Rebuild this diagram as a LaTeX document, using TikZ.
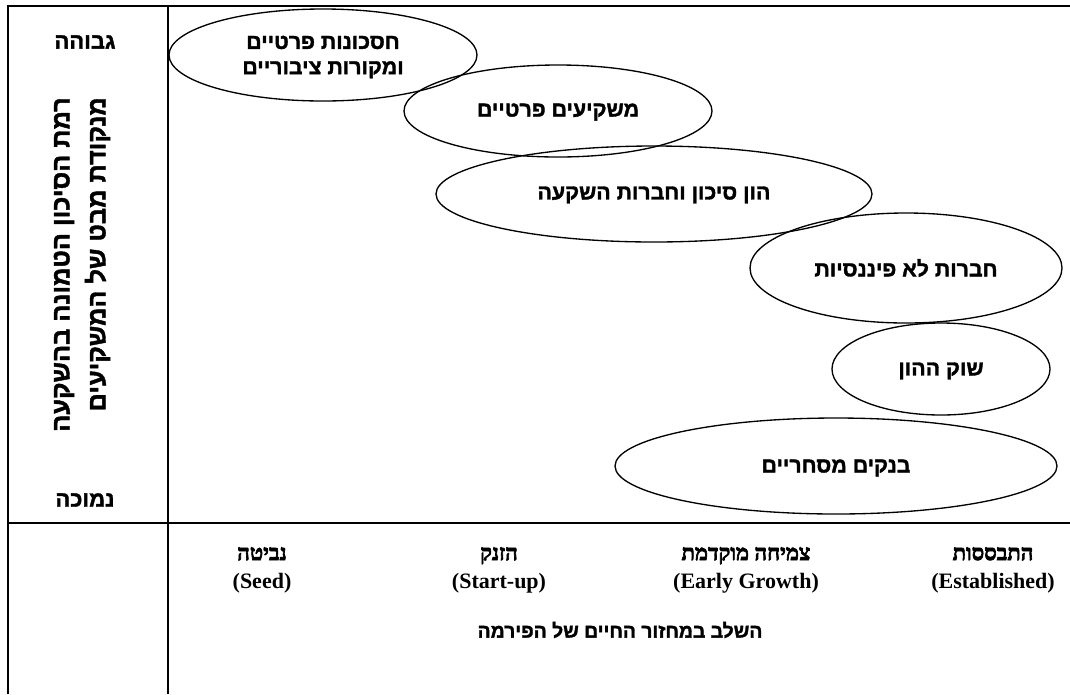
\documentclass[tikz,border=0pt]{standalone}
\usepackage{fontspec}
\setmainfont{Liberation Serif}
\newfontfamily\hebsans[Script=Hebrew, BoldFeatures={FakeBold=1.6}]{Liberation Sans}
\newfontfamily\hebserif[Script=Hebrew, BoldFeatures={FakeBold=3}]{Liberation Serif}
\TeXXeTstate=1

\tikzset{
  frame/.style={line width=1.5pt},
  oval/.style={line width=1pt},
  fund/.style={font=\hebsans\bfseries\fontsize{16}{19}\selectfont, align=center, inner sep=0pt},
  lvl/.style={font=\hebsans\bfseries\fontsize{16.5}{19}\selectfont, inner sep=0pt},
  riskaxis/.style={font=\hebsans\bfseries\fontsize{19}{27}\selectfont, align=right, inner sep=0pt},
  stage/.style={font=\rmfamily\bfseries\fontsize{16.5}{21}\selectfont, align=center, inner sep=0pt},
}

\begin{document}
\begin{tikzpicture}[x=0.75pt,y=0.75pt,yscale=-1]
\useasboundingbox (0,0) rectangle (1070,694);

%Straight Lines
\draw [frame] (8,694) -- (8,6) -- (1070,6) ;
%Straight Lines
\draw [frame] (168,6) -- (168,694) ;
%Straight Lines
\draw [frame] (8,523) -- (1070,523) ;

%Shape: Ellipse
\draw [oval] (323,55) ellipse [x radius=154, y radius=46] ;
%Shape: Ellipse
\draw [oval] (558,111) ellipse [x radius=154, y radius=46] ;
%Shape: Ellipse
\draw [oval] (654,194) ellipse [x radius=218, y radius=48] ;
%Shape: Ellipse
\draw [oval] (906,268) ellipse [x radius=156, y radius=55] ;
%Shape: Ellipse
\draw [oval] (941,369) ellipse [x radius=109, y radius=46] ;
%Shape: Ellipse
\draw [oval] (836,466) ellipse [x radius=221, y radius=48] ;

% Text Node
\node (savings) [fund] at (323,57) {\beginR חסכונות פרטיים\endR\\\beginR ומקורות ציבוריים\endR};
% Text Node
\node (angels) [fund] at (558,112) {\beginR משקיעים פרטיים\endR};
% Text Node
\node (venture) [fund] at (654,195) {\beginR הון סיכון וחברות השקעה\endR};
% Text Node
\node (corporates) [fund] at (906,268) {\beginR חברות לא פיננסיות\endR};
% Text Node
\node (market) [fund] at (941,371) {\beginR שוק ההון\endR};
% Text Node
\node (banks) [fund] at (836,468) {\beginR בנקים מסחריים\endR};

% Text Node
\node (high) [lvl] at (85,42) {\beginR גבוהה\endR};
% Text Node
\node (low) [lvl] at (85,500) {\beginR נמוכה\endR};
% Text Node
\node (risk) [riskaxis, rotate=90, anchor=east] at (82,97) {\beginR רמת הסיכון הטמונה בהשקעה\endR\\\beginR מנקודת מבט של המשקיעים\endR};

% Text Node
\node (seed) [stage] at (262,570) {{\hebserif\beginR נביטה\endR}\\(Seed)};
% Text Node
\node (startup) [stage] at (499,570) {{\hebserif\beginR הזנק\endR}\\(Start-up)};
% Text Node
\node (growth) [stage] at (746,570) {{\hebserif\beginR צמיחה מוקדמת\endR}\\(Early Growth)};
% Text Node
\node (established) [stage] at (993,570) {{\hebserif\beginR התבססות\endR}\\(Established)};
% Text Node
\node (lifecycle) [lvl, font=\hebsans\bfseries\fontsize{14.5}{18}\selectfont] at (620,630) {\beginR השלב במחזור החיים של הפירמה\endR};

\end{tikzpicture}
\end{document}
